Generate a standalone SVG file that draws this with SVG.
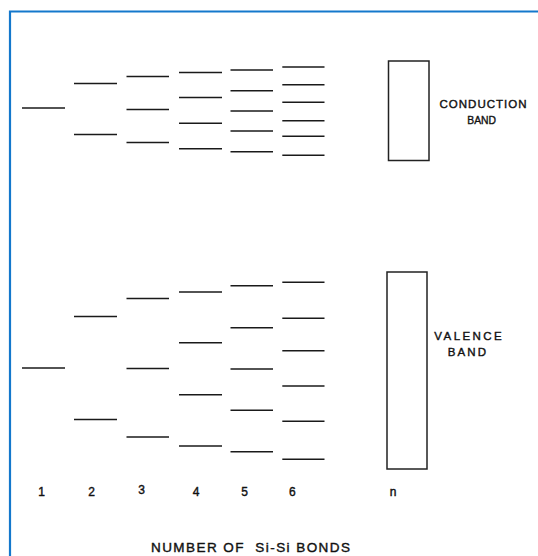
<svg xmlns="http://www.w3.org/2000/svg" width="538" height="556" viewBox="0 0 538 556">
<style>
.lv{stroke:#1a1a1a;stroke-width:1.4;fill:none}
.band{stroke:#222;stroke-width:1.5;fill:#fff}
.t{font-family:"Liberation Sans",Arial,sans-serif;fill:#111;stroke:#111;stroke-width:0.4}
.lab{font-size:11.5px}
.num{font-size:12px;text-anchor:middle}
.frame{stroke:#1478cc;stroke-width:2.2;fill:none}
</style>
<rect width="538" height="556" fill="#fff"/>
<path class="frame" d="M10,556 V11.5 H538"/>
<g id="col1">
<line class="lv" x1="22" y1="108" x2="65" y2="108"/>
<line class="lv" x1="22" y1="368" x2="65" y2="368"/>
</g>
<g id="col2">
<line class="lv" x1="74" y1="83.5" x2="117" y2="83.5"/>
<line class="lv" x1="74" y1="134.5" x2="117" y2="134.5"/>
<line class="lv" x1="74" y1="316.5" x2="117" y2="316.5"/>
<line class="lv" x1="74" y1="419.5" x2="117" y2="419.5"/>
</g>
<g id="col3">
<line class="lv" x1="126.5" y1="76.5" x2="169" y2="76.5"/>
<line class="lv" x1="126.5" y1="109.5" x2="169" y2="109.5"/>
<line class="lv" x1="126.5" y1="142.5" x2="169" y2="142.5"/>
<line class="lv" x1="126.5" y1="298.5" x2="169" y2="298.5"/>
<line class="lv" x1="126.5" y1="368.5" x2="169" y2="368.5"/>
<line class="lv" x1="126.5" y1="437" x2="169" y2="437"/>
</g>
<g id="col4">
<line class="lv" x1="179" y1="72.5" x2="222" y2="72.5"/>
<line class="lv" x1="179" y1="97.5" x2="222" y2="97.5"/>
<line class="lv" x1="179" y1="123.3" x2="222" y2="123.3"/>
<line class="lv" x1="179" y1="148.7" x2="222" y2="148.7"/>
<line class="lv" x1="179" y1="292" x2="222" y2="292"/>
<line class="lv" x1="179" y1="342.7" x2="222" y2="342.7"/>
<line class="lv" x1="179" y1="394.7" x2="222" y2="394.7"/>
<line class="lv" x1="179" y1="446" x2="222" y2="446"/>
</g>
<g id="col5">
<line class="lv" x1="230.5" y1="70" x2="273" y2="70"/>
<line class="lv" x1="230.5" y1="90.7" x2="273" y2="90.7"/>
<line class="lv" x1="230.5" y1="111" x2="273" y2="111"/>
<line class="lv" x1="230.5" y1="131" x2="273" y2="131"/>
<line class="lv" x1="230.5" y1="151.7" x2="273" y2="151.7"/>
<line class="lv" x1="230.5" y1="285.7" x2="273" y2="285.7"/>
<line class="lv" x1="230.5" y1="327.7" x2="273" y2="327.7"/>
<line class="lv" x1="230.5" y1="369" x2="273" y2="369"/>
<line class="lv" x1="230.5" y1="410.3" x2="273" y2="410.3"/>
<line class="lv" x1="230.5" y1="451.7" x2="273" y2="451.7"/>
</g>
<g id="col6">
<line class="lv" x1="282.3" y1="67" x2="324.5" y2="67"/>
<line class="lv" x1="282.3" y1="84.7" x2="324.5" y2="84.7"/>
<line class="lv" x1="282.3" y1="102.3" x2="324.5" y2="102.3"/>
<line class="lv" x1="282.3" y1="120.7" x2="324.5" y2="120.7"/>
<line class="lv" x1="282.3" y1="136.3" x2="324.5" y2="136.3"/>
<line class="lv" x1="282.3" y1="155.3" x2="324.5" y2="155.3"/>
<line class="lv" x1="282.3" y1="282.3" x2="324.5" y2="282.3"/>
<line class="lv" x1="282.3" y1="318.3" x2="324.5" y2="318.3"/>
<line class="lv" x1="282.3" y1="350.7" x2="324.5" y2="350.7"/>
<line class="lv" x1="282.3" y1="386" x2="324.5" y2="386"/>
<line class="lv" x1="282.3" y1="421.3" x2="324.5" y2="421.3"/>
<line class="lv" x1="282.3" y1="459.3" x2="324.5" y2="459.3"/>
</g>
<g id="conduction">
<rect class="band" x="388.5" y="61" width="40.5" height="99.5"/>
<text class="t lab" x="439.5" y="108.3" textLength="87" lengthAdjust="spacing">CONDUCTION</text>
<text class="t lab" x="467.3" y="124.3" textLength="28.7" lengthAdjust="spacingAndGlyphs">BAND</text>
</g>
<g id="valence">
<rect class="band" x="387" y="272" width="40" height="197"/>
<text class="t lab" x="434.3" y="340" textLength="67.4" lengthAdjust="spacing">VALENCE</text>
<text class="t lab" x="447.7" y="355.7" textLength="38.3" lengthAdjust="spacing">BAND</text>
</g>
<g id="axis">
<text class="t num" x="41.5" y="495.7">1</text>
<text class="t num" x="91.7" y="495.7">2</text>
<text class="t num" x="141.7" y="493.5">3</text>
<text class="t num" x="196" y="495.7">4</text>
<text class="t num" x="244.7" y="495.7">5</text>
<text class="t num" x="292.3" y="495.7">6</text>
<text class="t num" x="393" y="495.7">n</text>
<text class="t" x="151" y="552" font-size="13.5" textLength="199" lengthAdjust="spacing" xml:space="preserve">NUMBER OF  Si-Si BONDS</text>
</g>
</svg>
